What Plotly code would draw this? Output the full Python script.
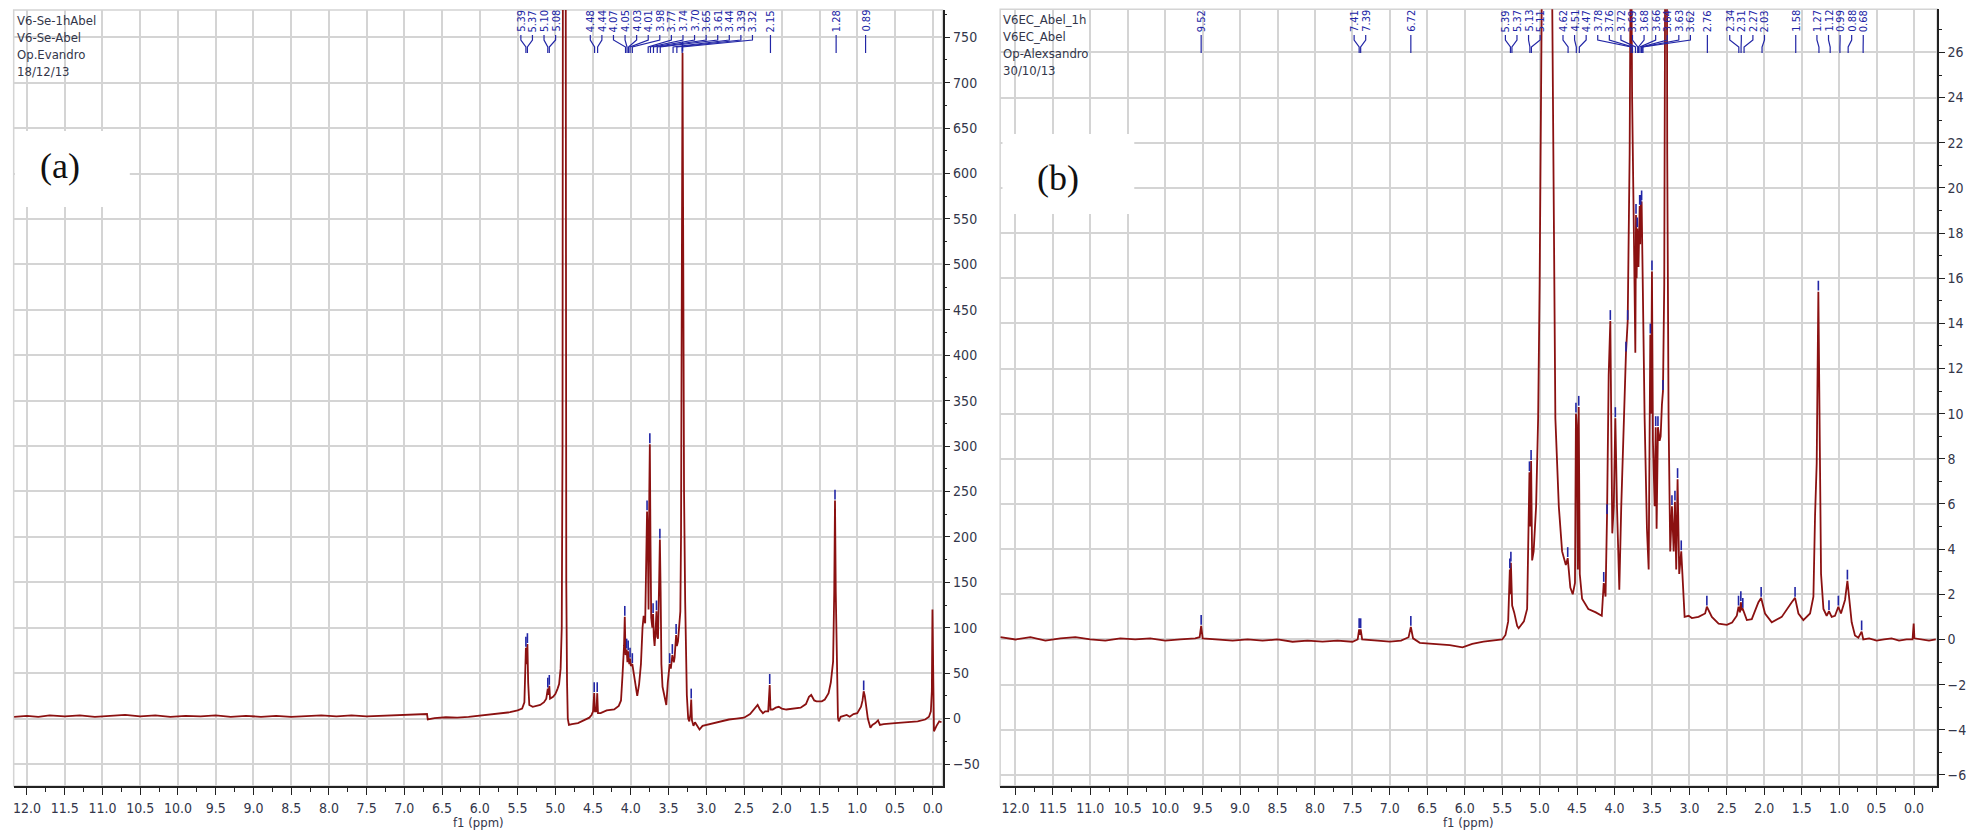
import plotly.graph_objects as go

W, H = 1966, 833

# ---------------- Panel (a) data ----------------
ppm_a = [12.17, 12.0, 11.85, 11.7, 11.5, 11.3, 11.1, 10.9, 10.7, 10.5, 10.3, 10.1, 9.9, 9.7, 9.5, 9.3, 9.1,
         8.9, 8.7, 8.5, 8.3, 8.1, 7.9, 7.7, 7.5, 7.3, 7.1, 6.9, 6.75, 6.70, 6.69, 6.6, 6.45, 6.3, 6.15, 6.0,
         5.85, 5.7, 5.6, 5.5, 5.44, 5.41, 5.40, 5.39, 5.38, 5.37, 5.36, 5.345, 5.3, 5.2, 5.15, 5.12, 5.10,
         5.09, 5.08, 5.07, 5.03, 5.0, 4.97, 4.95, 4.93, 4.915, 4.905, 4.895, 4.88, 4.87, 4.862, 4.855, 4.845,
         4.835, 4.82, 4.78, 4.7, 4.62, 4.55, 4.52, 4.50, 4.485, 4.475, 4.455, 4.445, 4.435, 4.4, 4.32, 4.22,
         4.16, 4.13, 4.11, 4.09, 4.08, 4.07, 4.055, 4.045, 4.035, 4.02, 4.01, 4.0, 3.98, 3.95, 3.93, 3.915,
         3.89, 3.866, 3.845, 3.83, 3.81, 3.795, 3.785, 3.775, 3.765, 3.755, 3.748, 3.74, 3.73, 3.715, 3.705,
         3.695, 3.685, 3.67, 3.66, 3.65, 3.64, 3.625, 3.615, 3.605, 3.595, 3.58, 3.56, 3.53, 3.51, 3.50,
         3.485, 3.47, 3.45, 3.43, 3.42, 3.40, 3.39, 3.375, 3.355, 3.344, 3.335, 3.325, 3.315, 3.305, 3.295,
         3.28, 3.27, 3.258, 3.24, 3.225, 3.21, 3.20, 3.19, 3.17, 3.15, 3.12, 3.09, 3.05, 3.0, 2.9, 2.8, 2.7,
         2.6, 2.5, 2.42, 2.35, 2.32, 2.29, 2.25, 2.22, 2.18, 2.16, 2.15, 2.12, 2.08, 2.04, 2.0, 1.94, 1.85,
         1.75, 1.68, 1.64, 1.61, 1.57, 1.54, 1.47, 1.43, 1.38, 1.35, 1.32, 1.305, 1.295, 1.285, 1.27, 1.256,
         1.245, 1.22, 1.18, 1.14, 1.1, 1.05, 1.0, 0.97, 0.95, 0.93, 0.915, 0.90, 0.877, 0.86, 0.826, 0.80,
         0.76, 0.725, 0.70, 0.65, 0.5, 0.35, 0.2, 0.1, 0.05, 0.025, 0.012, 0.004, -0.006, -0.016, -0.05,
         -0.086, -0.116]
int_a = [2, 3, 2, 3.5, 2.5, 3.5, 2, 3, 4, 2.5, 3.5, 2, 3, 2.5, 3.5, 2, 3,
         2, 3, 2, 2.5, 3.5, 2.5, 3.5, 2.5, 3, 3.5, 4, 5, 5, -1, 0.5, 1.5, 1, 2, 3.5,
         5, 6, 7, 9, 11, 18, 60, 78, 60, 82, 40, 15, 13, 15, 18, 22, 33,
         26, 36, 22, 24, 27, 33, 38, 55, 100, 300, 1500, 3000, 1500, 300, 150, 40,
         0, -7, -6, -5, -2, 1, 4, 8, 28, 8, 8, 28, 6, 6, 9, 10,
         14, 20, 48, 80, 112, 70, 76, 62, 74, 60, 66, 58, 60, 45, 30, 25,
         38, 60, 100, 113, 105, 160, 228, 200, 120, 250, 302, 200, 111, 100, 115,
         90, 80, 100, 118, 90, 88, 150, 197, 140, 60, 35, 26, 15, 40, 50,
         60, 55, 70, 62, 67, 92, 80, 85, 110, 118, 200, 500, 733, 500, 250,
         129, 60, 26, 0, -3, 5, 21, -2, -8, -4, -8, -12, -8, -7, -5, -3, -1,
         0, 1, 5, 12, 15, 10, 6, 8, 8, 37, 10, 10, 12, 13, 11, 10, 11,
         12, 16, 24, 26, 20, 19, 19, 21, 28, 40, 63, 140, 240, 140, 40, 1,
         -3, 2, 3, 4, 2, 5, 6, 10, 13, 20, 30, 25, 11, 0, -10, -7,
         -5, -2, -7, -6, -5, -4, -3, -1, 2, 8, 30, 120, 50, -14, -8,
         -3, -4]

# picked peaks (marker positions) for panel (a)
pick_a_ppm = [5.39, 5.37, 5.10, 5.08, 4.485, 4.445, 4.08, 4.055, 4.035, 4.01, 3.98, 3.785, 3.748, 3.705,
              3.66, 3.615, 3.485, 3.45, 3.40, 3.315, 3.20, 2.16, 1.295, 0.915]
pick_a_int = [78, 82, 33, 36, 28, 28, 112, 76, 74, 66, 60, 228, 302, 115,
              118, 197, 60, 70, 92, 733, 21, 37, 240, 30]

labels_a = [5.39, 5.37, 5.10, 5.08, 4.48, 4.44, 4.07, 4.05, 4.03, 4.01, 3.98, 3.77, 3.74, 3.70, 3.65,
            3.61, 3.44, 3.39, 3.32, 2.15, 1.28, 0.89]

# ---------------- Panel (b) data ----------------
ppm_b = [12.2, 12.0, 11.8, 11.6, 11.4, 11.2, 11.0, 10.8, 10.6, 10.4, 10.2, 10.0, 9.8, 9.6, 9.54, 9.52, 9.50,
         9.3, 9.1, 8.9, 8.7, 8.5, 8.3, 8.1, 7.9, 7.7, 7.5, 7.43, 7.41, 7.40, 7.39, 7.37, 7.2, 7.0, 6.85,
         6.75, 6.72, 6.69, 6.6, 6.4, 6.2, 6.03, 5.9, 5.75, 5.6, 5.5, 5.456, 5.42, 5.398, 5.39, 5.384,
         5.367, 5.34, 5.3, 5.28, 5.21, 5.167, 5.144, 5.136, 5.125, 5.114, 5.10, 5.08, 5.047, 5.02, 5.0,
         4.96, 4.93, 4.90, 4.87, 4.84, 4.82, 4.81, 4.79, 4.744, 4.70, 4.65, 4.625, 4.59, 4.558, 4.528,
         4.515, 4.504, 4.49, 4.478, 4.464, 4.433, 4.35, 4.25, 4.17, 4.144, 4.12, 4.1, 4.078, 4.056, 4.04,
         4.03, 4.01, 3.989, 3.967, 3.936, 3.91, 3.878, 3.847, 3.824, 3.81, 3.798, 3.785, 3.775, 3.765,
         3.753, 3.736, 3.722, 3.713, 3.705, 3.696, 3.68, 3.664, 3.657, 3.65, 3.638, 3.624, 3.598, 3.567,
         3.544, 3.522, 3.512, 3.5, 3.487, 3.464, 3.45, 3.438, 3.42, 3.398, 3.384, 3.367, 3.353, 3.336,
         3.32, 3.31, 3.30, 3.296, 3.278, 3.256, 3.233, 3.21, 3.193, 3.176, 3.158, 3.136, 3.109, 3.09,
         3.064, 3.01, 2.967, 2.878, 2.79, 2.767, 2.7, 2.61, 2.5, 2.43, 2.367, 2.344, 2.325, 2.313, 2.30,
         2.287, 2.233, 2.167, 2.078, 2.042, 1.99, 1.9, 1.767, 1.633, 1.589, 1.544, 1.478, 1.389, 1.344,
         1.322, 1.30, 1.278, 1.26, 1.242, 1.21, 1.167, 1.136, 1.10, 1.056, 1.011, 0.976, 0.922, 0.89,
         0.864, 0.833, 0.789, 0.744, 0.70, 0.678, 0.6, 0.5, 0.4, 0.3, 0.2, 0.1, 0.02, 0.005, -0.005,
         -0.1, -0.2, -0.29]
int_b = [0.1, 0.0, 0.1, -0.05, 0.05, 0.1, 0.0, -0.05, 0.05, 0.0, 0.05, -0.05, 0.0, 0.05, 0.1, 0.6, 0.05,
         0.0, -0.05, 0.0, -0.05, 0.0, -0.1, -0.05, -0.1, -0.05, -0.1, 0.0, 0.45, 0.2, 0.45, 0.0, -0.05, -0.1, -0.05,
         0.1, 0.55, 0.05, -0.15, -0.2, -0.25, -0.35, -0.2, -0.1, -0.05, 0.0, 0.2, 0.8, 3.1, 2.0, 3.4,
         1.5, 1.2, 0.6, 0.5, 0.8, 1.35, 5.1, 7.4, 5.0, 7.9, 3.5, 3.9, 5.9, 9.8, 15.7,
         28.5, 45, 60, 45, 32, 25.5, 17.6, 9.8, 5.9, 3.9, 3.3, 3.6, 2.3, 2.0, 2.5,
         10.0, 9.5, 3.1, 10.3, 2.9, 1.8, 1.35, 1.2, 1.05, 2.5, 1.9, 5.5, 11.7, 14.1, 6.0,
         4.7, 5.9, 9.8, 5.9, 2.2, 5.9, 9.8, 12.7, 14.1, 17.6, 21.5, 30, 30, 24,
         19.6, 16.6, 12.7, 18.8, 16, 18.2, 16.5, 19.2, 17.5, 19.2, 19.4, 15.7, 9.8, 4.9,
         3.1, 13.5, 10, 16.3, 8.8, 5.9, 9.4, 4.9, 9.4, 8.8, 9.0, 10.4, 11.0, 15.7,
         30, 45, 30, 21.5, 9.8, 3.9, 5.9, 3.9, 6.1, 3.1, 7.1, 2.9, 3.9, 2.5,
         1.0, 1.05, 0.95, 1.0, 1.15, 1.45, 1.0, 0.7, 0.65, 0.75, 1.05, 1.45, 1.2, 1.65, 1.3,
         1.35, 0.86, 0.9, 1.65, 1.84, 1.15, 0.76, 1.0, 1.65, 1.84, 1.15, 0.86, 1.15, 1.9,
         5.5, 7.8, 15.4, 7.8, 2.9, 1.35, 1.05, 1.25, 1.0, 1.05, 1.45, 1.15, 1.75, 2.6,
         1.84, 0.76, 0.18, 0.08, 0.35, 0.0, 0.05, -0.05, 0.0, 0.05, -0.05, 0.0, 0.0, 0.7, 0.05,
         0.0, -0.05, 0.0]

pick_b_ppm = [9.52, 7.41, 7.39, 6.72, 5.398, 5.384, 5.136, 5.114, 4.625, 4.515, 4.478, 4.144, 4.1, 4.056,
              3.989, 3.847, 3.824, 3.713, 3.696, 3.664, 3.65, 3.638, 3.522, 3.5, 3.45, 3.42, 3.353,
              3.233, 3.193, 3.158, 3.109, 2.767, 2.344, 2.313, 2.287, 2.042, 1.589, 1.278, 1.136, 1.011,
              0.89, 0.70]
pick_b_int = [0.6, 0.45, 0.45, 0.55, 3.1, 3.4, 7.4, 7.9, 3.6, 10.0, 10.3, 2.5, 5.5, 14.1,
              9.8, 12.7, 14.1, 18.8, 18.2, 19.2, 19.2, 19.4, 13.5, 16.3, 9.4, 9.4, 11.0,
              5.9, 6.1, 7.1, 3.9, 1.45, 1.45, 1.65, 1.35, 1.84, 1.84, 15.4, 1.25, 1.45,
              2.6, 0.35]

labels_b = [9.52, 7.41, 7.39, 6.72, 5.39, 5.37, 5.13, 5.11, 4.62, 4.51, 4.47, 3.78, 3.76, 3.72, 3.69,
            3.68, 3.66, 3.64, 3.63, 3.62, 2.76, 2.34, 2.31, 2.27, 2.03, 1.58, 1.27, 1.12, 0.99, 0.88, 0.68]

meta_a = ["V6-Se-1hAbel", "V6-Se-Abel", "Op.Evandro", "18/12/13"]
meta_b = ["V6EC_Abel_1h", "V6EC_Abel", "Op-Alexsandro", "30/10/13"]

# ---------------- layout geometry (pixels) ----------------
PA = dict(L=12.7, R=943.0, T=10.0, B=786.0, xr=[12.176, -0.13], yr=[-74.2, 780.0])
PB = dict(L=1000.7, R=1939.0, T=9.3, B=786.0, xr=[12.204, -0.307], yr=[-6.49, 27.91])

RED = "#8b1111"
BLUE = "#2226a6"
GRID = "#d4d4d4"
TXT = "#33364a"
NARROW = "Liberation Sans Narrow, DejaVu Sans Condensed, Arial Narrow, Liberation Sans, sans-serif"
LAB_GAP = 11.6


def ppm2px(P, ppm):
    r0, r1 = P["xr"]
    return P["L"] + (r0 - ppm) / (r0 - r1) * (P["R"] - P["L"])


def py(p):
    return (H - p) / H


def spread(targets, d):
    """Chain close targets into groups, centre each group on its targets,
    then push a group right when it would collide with the previous one."""
    groups = [[targets[0]]]
    for t in targets[1:]:
        if t - groups[-1][-1] < d:
            groups[-1].append(t)
        else:
            groups.append([t])
    out = []
    prev_end = -1e9
    for g in groups:
        n = len(g)
        c = sum(g) / n
        start = c - (n - 1) / 2 * d
        start = max(start, prev_end + d)
        pos = [start + k * d for k in range(n)]
        out += pos
        prev_end = pos[-1]
    return out


fig = go.Figure()

panels = [
    (PA, ppm_a, int_a, pick_a_ppm, pick_a_int, labels_a, "x", "y", 50, 25, 6.6, meta_a),
    (PB, ppm_b, int_b, pick_b_ppm, pick_b_int, labels_b, "x2", "y2", 2, 1, 0.27, meta_b),
]

shapes = []
annotations = []

for i, (P, xs, ys, pk_x, pk_y, labs, xa, ya, ydt, ymdt, moff, meta) in enumerate(panels):
    fig.add_trace(go.Scatter(x=xs, y=ys, mode="lines", xaxis=xa, yaxis=ya,
                             line=dict(color=RED, width=1.8), showlegend=False, hoverinfo="skip"))
    fig.add_trace(go.Scatter(x=pk_x, y=[v + moff for v in pk_y], mode="markers", xaxis=xa, yaxis=ya,
                             marker=dict(symbol="line-ns", size=7, line=dict(color=BLUE, width=1.6)),
                             showlegend=False, hoverinfo="skip"))
    sfx = "" if i == 0 else "2"
    dom_x = [P["L"] / W, P["R"] / W]
    dom_y = [py(P["B"]), py(P["T"])]
    fig.layout["xaxis" + sfx] = dict(
        domain=dom_x, range=P["xr"], anchor="y" + sfx, dtick=0.5, tick0=0, tickformat=".1f",
        ticks="outside", ticklen=7, tickwidth=1.3, tickcolor="#222", showline=True, linecolor="#222",
        linewidth=1.5, showgrid=True, gridcolor=GRID, gridwidth=1.5, zeroline=False,
        ticklabelstandoff=1,
        tickfont=dict(family=NARROW, size=14, color=TXT),
        minor=dict(dtick=0.25, tick0=0, ticks="outside", ticklen=4, tickcolor="#222", showgrid=False))
    fig.layout["yaxis" + sfx] = dict(
        domain=dom_y, range=P["yr"], anchor="x" + sfx, side="right", dtick=ydt, tick0=0,
        ticks="outside", ticklen=6, tickwidth=1.3, tickcolor="#222", showline=True, linecolor="#222",
        linewidth=1.5, showgrid=True, gridcolor=GRID, gridwidth=1.5, zeroline=False,
        ticklabelstandoff=0,
        tickfont=dict(family=NARROW, size=14, color=TXT),
        minor=dict(dtick=ymdt, tick0=0, ticks="outside", ticklen=3, tickcolor="#222", showgrid=False))

    # gray frame around plot area
    shapes.append(dict(type="rect", xref=xa + " domain", yref=ya + " domain", x0=0, x1=1, y0=0, y1=1,
                       line=dict(color=GRID, width=1.5), layer="below"))

    # metadata text
    annotations.append(dict(text="<br>".join(meta), xref="paper", yref="paper",
                            x=(P["L"] + 1) / W, y=py(P["T"] + 1), xanchor="left", yanchor="top",
                            align="left", showarrow=False,
                            font=dict(family=NARROW, size=13, color=TXT)))
    # axis title
    annotations.append(dict(text="f1 (ppm)", xref="paper", yref="paper",
                            x=(P["L"] + P["R"]) / 2 / W, y=py(822), xanchor="center", yanchor="middle",
                            showarrow=False, font=dict(family=NARROW, size=13, color=TXT)))

    # peak labels with multiplet-style connectors
    tgt = [ppm2px(P, v) for v in labs]
    lab_px = spread(tgt, LAB_GAP)
    for v, tp, lp in zip(labs, tgt, lab_px):
        annotations.append(dict(text="%.2f" % v, xref="paper", yref="paper", x=lp / W, y=py(34),
                                xanchor="center", yanchor="bottom", textangle=-90, showarrow=False,
                                font=dict(family=NARROW, size=11, color=BLUE)))
        path = "M %f,%f L %f,%f L %f,%f L %f,%f" % (lp / W, py(35), lp / W, py(40), tp / W, py(47),
                                                     tp / W, py(53))
        shapes.append(dict(type="path", xref="paper", yref="paper", path=path,
                           line=dict(color=BLUE, width=1.2), layer="above"))

# (a) / (b) panel tags on white boxes
for (x0, y0, x1, y1, tx, ty, t) in [(14, 131, 129, 207, 59, 166, "(a)"),
                                     (1003, 134, 1135, 214, 1059, 178, "(b)")]:
    shapes.append(dict(type="rect", xref="paper", yref="paper", x0=x0 / W, x1=x1 / W, y0=py(y1), y1=py(y0),
                       fillcolor="white", line=dict(width=0), layer="above"))
    annotations.append(dict(text=t, xref="paper", yref="paper", x=tx / W, y=py(ty), xanchor="center",
                            yanchor="middle", showarrow=False,
                            font=dict(family="Liberation Serif, Times New Roman, serif", size=36,
                                      color="#111")))

fig.update_layout(width=W, height=H, margin=dict(l=0, r=0, t=0, b=0), paper_bgcolor="white",
                  plot_bgcolor="white", shapes=shapes, annotations=annotations, showlegend=False)

fig.write_html("out.html", config={"displayModeBar": False},
               post_script="document.body.style.margin='0px';"
                           "document.documentElement.style.overflow='hidden';")
